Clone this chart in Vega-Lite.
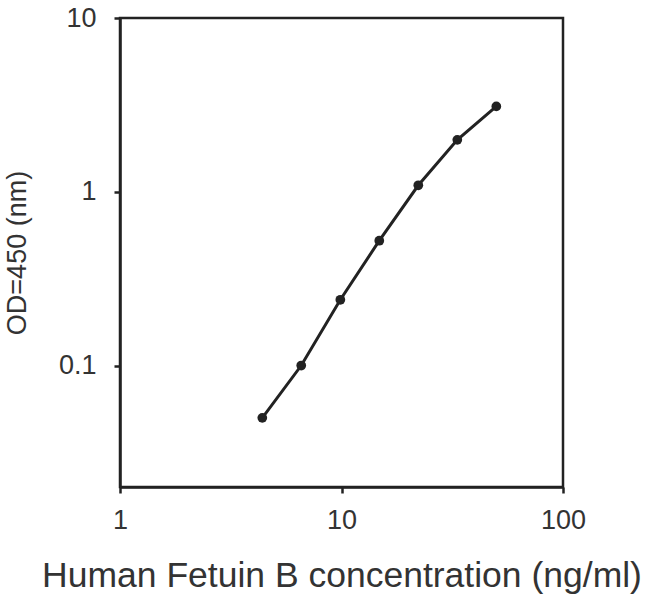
{
  "$schema": "https://vega.github.io/schema/vega-lite/v6.json",
  "width": 443,
  "height": 469,
  "autosize": {"type": "none"},
  "padding": {"left": 120, "top": 18, "right": 87, "bottom": 121},
  "background": "white",
  "config": {
    "view": {"stroke": "#222", "strokeWidth": 2.5},
    "font": "Liberation Sans"
  },
  "data": {
    "values": [
      {"conc": 4.39, "od": 0.05},
      {"conc": 6.58, "od": 0.1},
      {"conc": 9.88, "od": 0.239},
      {"conc": 14.81, "od": 0.523},
      {"conc": 22.22, "od": 1.09},
      {"conc": 33.33, "od": 1.99},
      {"conc": 50, "od": 3.1}
    ]
  },
  "encoding": {
    "x": {
      "field": "conc",
      "type": "quantitative",
      "scale": {"type": "log", "domain": [1, 100], "nice": false},
      "axis": {
        "title": "Human Fetuin B concentration (ng/ml)",
        "values": [1, 10, 100],
        "format": "~g",
        "grid": false,
        "domainColor": "#222",
        "domainWidth": 2.5,
        "tickColor": "#222",
        "tickWidth": 2.5,
        "tickSize": 6,
        "labelFontSize": 27,
        "labelColor": "#333",
        "labelPadding": 14,
        "labelFlush": false,
        "titleFontSize": 35.5,
        "titleFontWeight": "normal",
        "titleColor": "#333",
        "titlePadding": 25
      }
    },
    "y": {
      "field": "od",
      "type": "quantitative",
      "scale": {"type": "log", "domain": [0.02, 10], "nice": false},
      "axis": {
        "title": "OD=450 (nm)",
        "values": [0.1, 1, 10],
        "format": "~g",
        "grid": false,
        "domainColor": "#222",
        "domainWidth": 2.5,
        "tickColor": "#222",
        "tickWidth": 2.5,
        "tickSize": 6,
        "labelFontSize": 27,
        "labelColor": "#333",
        "labelPadding": 18,
        "labelFlush": false,
        "titleFontSize": 27,
        "titleFontWeight": "normal",
        "titleColor": "#333",
        "titlePadding": 27
      }
    }
  },
  "layer": [
    {"mark": {"type": "line", "color": "#222", "strokeWidth": 3}},
    {"mark": {"type": "point", "filled": true, "color": "#222", "opacity": 1, "size": 95, "shape": "circle"}}
  ]
}
